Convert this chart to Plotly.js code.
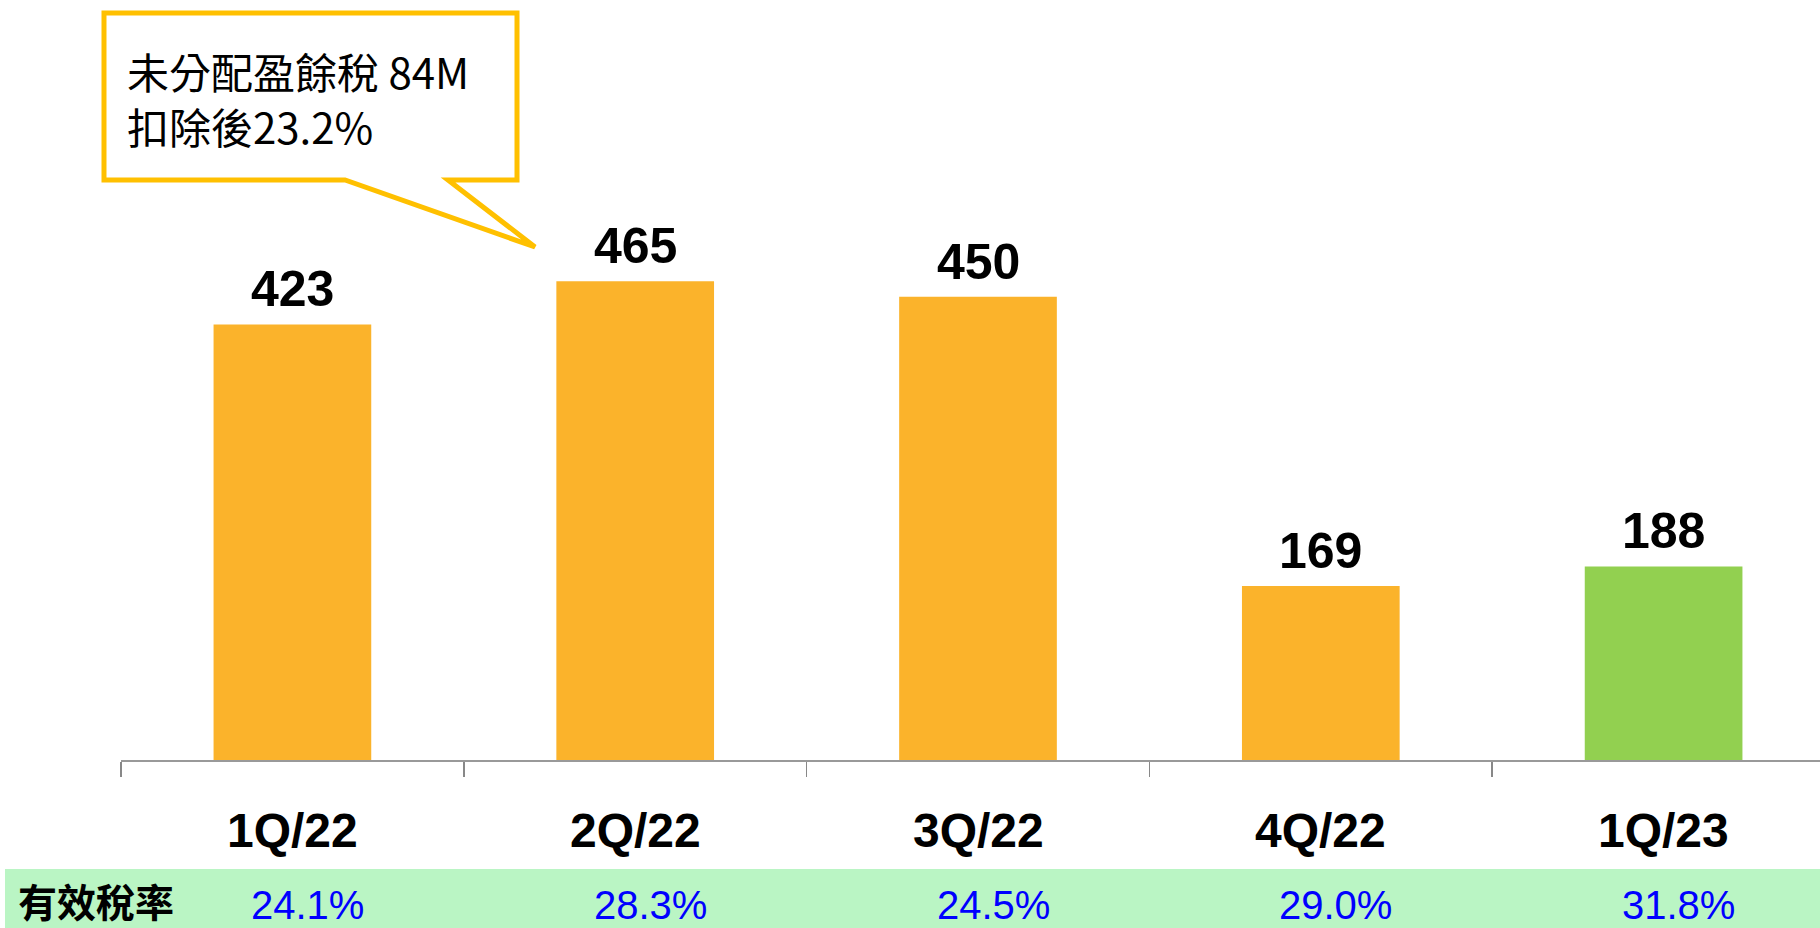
<!DOCTYPE html>
<html>
<head>
<meta charset="utf-8">
<script src="https://cdn.plot.ly/plotly-3.0.1.min.js"></script>
<style>
html,body{margin:0;padding:0;background:#fff;}
#chart{width:1820px;height:928px;}
</style>
</head>
<body>
<div id="chart"></div>
<script>
// ---- data ----
const categories = ["1Q/22", "2Q/22", "3Q/22", "4Q/22", "1Q/23"];
const taxExpense = [423, 465, 450, 169, 188];
const effectiveTaxRate = ["24.1%", "28.3%", "24.5%", "29.0%", "31.8%"];
const rowLabel = "有效稅率";
const calloutLines = ["未分配盈餘稅 84M", "扣除後23.2%"];

// ---- layout geometry (pixels) ----
const W = 1820, H = 928;
const mL = 121, mR = 0, mT = 0, mB = 168;
const plotW = W - mL - mR, plotH = H - mT - mB;
const px = x => (x - mL) / plotW;        // pixel x -> paper x
const py = y => 1 - (y - mT) / plotH;    // pixel y -> paper y

const orange = "#FBB32B", green = "#92D050";
const barColors = categories.map((c, i) => i === categories.length - 1 ? green : orange);

const trace = {
  type: "bar",
  x: categories,
  y: taxExpense,
  marker: {color: barColors, line: {width: 0}},
  hoverinfo: "x+y",
  showlegend: false
};

const annotations = [];
// value labels above bars
categories.forEach((c, i) => {
  annotations.push({
    x: c, y: taxExpense[i], xref: "x", yref: "y",
    text: String(taxExpense[i]), showarrow: false,
    xanchor: "center", yanchor: "bottom", yshift: 5,
    font: {family: "Liberation Sans, Arial, sans-serif", size: 50, color: "#000", weight: "bold"}
  });
});
// category labels
categories.forEach((c, i) => {
  annotations.push({
    x: c, y: py(831), xref: "x", yref: "paper",
    text: c, showarrow: false, xanchor: "center", yanchor: "middle",
    font: {family: "Liberation Sans, Arial, sans-serif", size: 48, color: "#000", weight: "bold"}
  });
});
// effective tax rate row
annotations.push({
  x: px(16), y: py(900), xref: "paper", yref: "paper",
  text: rowLabel, showarrow: false, xanchor: "left", yanchor: "middle",
  font: {family: "Noto Sans CJK TC, sans-serif", size: 39, color: "#000", weight: "bold"}
});
categories.forEach((c, i) => {
  annotations.push({
    x: c, y: py(905), xref: "x", yref: "paper", xshift: 15,
    text: effectiveTaxRate[i], showarrow: false, xanchor: "center", yanchor: "middle",
    font: {family: "Liberation Sans, Arial, sans-serif", size: 40, color: "#0000FF"}
  });
});
// callout text
annotations.push({
  x: px(125), y: py(98), xref: "paper", yref: "paper",
  text: calloutLines.join("<br>"), showarrow: false, xanchor: "left", yanchor: "middle", align: "left",
  font: {family: "Noto Sans CJK TC, sans-serif", size: 42, color: "#000"}
});

const calloutPath = [
  [104, 13], [517, 13], [517, 180], [448, 180], [535, 247], [345, 180], [104, 180]
].map((p, i) => (i === 0 ? "M" : "L") + px(p[0]).toFixed(5) + "," + py(p[1]).toFixed(5)).join(" ") + " Z";

const shapes = [
  {type: "rect", xref: "paper", yref: "paper", x0: px(5), x1: px(1830), y0: py(869), y1: py(940),
   fillcolor: "#BAF5C4", line: {width: 0}, layer: "below"},
  {type: "path", xref: "paper", yref: "paper", path: calloutPath,
   fillcolor: "#FFFFFF", line: {color: "#FFC000", width: 5}, layer: "above"}
];

const layout = {
  width: W, height: H,
  margin: {l: mL, r: mR, t: mT, b: mB, pad: 0},
  paper_bgcolor: "#FFFFFF", plot_bgcolor: "#FFFFFF",
  bargap: 0.54,
  xaxis: {
    type: "category",
    range: [-0.5, -0.5 + plotW / 342.8],
    showline: true, linecolor: "#999999", linewidth: 2,
    ticks: "outside", tickson: "boundaries", ticklen: 15, tickwidth: 1.5, tickcolor: "#888888",
    showticklabels: false, showgrid: false, zeroline: false, fixedrange: true
  },
  yaxis: {
    range: [0, plotH / 1.0296],
    visible: false, showgrid: false, zeroline: false, fixedrange: true
  },
  shapes: shapes,
  annotations: annotations
};

Plotly.newPlot("chart", [trace], layout, {displayModeBar: false, staticPlot: true});
</script>
</body>
</html>
